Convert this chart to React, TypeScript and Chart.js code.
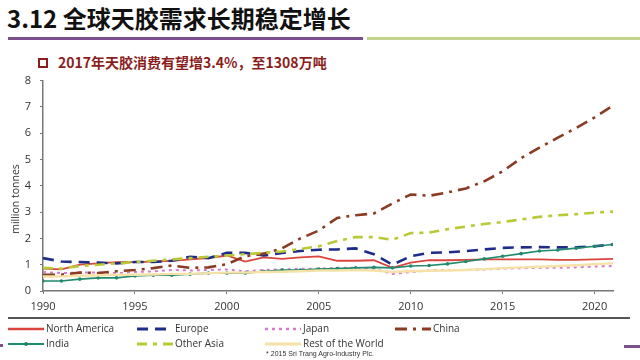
import React, { useEffect, useRef } from 'react';
import { Chart, registerables } from 'chart.js';
Chart.register(...registerables);

const years = [1990, 1991, 1992, 1993, 1994, 1995, 1996, 1997, 1998, 1999, 2000, 2001, 2002, 2003, 2004, 2005, 2006, 2007, 2008, 2009, 2010, 2011, 2012, 2013, 2014, 2015, 2016, 2017, 2018, 2019, 2020, 2021];
const northAmerica = [0.85, 0.82, 1.0, 1.05, 1.1, 1.1, 1.12, 1.15, 1.2, 1.25, 1.35, 1.12, 1.28, 1.22, 1.28, 1.32, 1.15, 1.15, 1.17, 0.88, 1.08, 1.17, 1.17, 1.18, 1.2, 1.2, 1.2, 1.2, 1.18, 1.18, 1.2, 1.22];
const europe = [1.25, 1.12, 1.1, 1.08, 1.05, 1.1, 1.1, 1.15, 1.3, 1.25, 1.45, 1.45, 1.35, 1.45, 1.52, 1.57, 1.58, 1.62, 1.4, 1.0, 1.32, 1.45, 1.47, 1.52, 1.58, 1.64, 1.66, 1.67, 1.66, 1.66, 1.7, 1.77];
const japan = [0.72, 0.68, 0.7, 0.7, 0.68, 0.72, 0.75, 0.8, 0.78, 0.8, 0.82, 0.75, 0.8, 0.82, 0.85, 0.85, 0.88, 0.88, 0.85, 0.65, 0.72, 0.78, 0.8, 0.8, 0.82, 0.85, 0.87, 0.88, 0.88, 0.9, 0.93, 0.95];
const china = [0.62, 0.62, 0.7, 0.68, 0.75, 0.8, 0.87, 0.97, 0.88, 0.9, 1.02, 1.32, 1.42, 1.62, 2.0, 2.3, 2.78, 2.88, 2.95, 3.33, 3.67, 3.62, 3.75, 3.9, 4.17, 4.55, 5.05, 5.45, 5.83, 6.2, 6.6, 7.05];
const india = [0.38, 0.38, 0.45, 0.5, 0.5, 0.57, 0.6, 0.6, 0.64, 0.68, 0.68, 0.68, 0.75, 0.8, 0.8, 0.83, 0.85, 0.88, 0.9, 0.88, 0.95, 0.97, 1.03, 1.12, 1.22, 1.32, 1.42, 1.52, 1.56, 1.63, 1.7, 1.77];
const otherAsia = [0.88, 0.85, 0.95, 1.0, 1.05, 1.1, 1.15, 1.2, 1.25, 1.3, 1.35, 1.4, 1.45, 1.5, 1.6, 1.7, 1.9, 2.05, 2.05, 1.95, 2.2, 2.22, 2.35, 2.45, 2.55, 2.62, 2.72, 2.82, 2.88, 2.92, 2.98, 3.02];
const restOfWorld = [0.55, 0.55, 0.58, 0.6, 0.62, 0.62, 0.63, 0.65, 0.65, 0.68, 0.7, 0.7, 0.72, 0.73, 0.75, 0.78, 0.78, 0.8, 0.78, 0.72, 0.75, 0.77, 0.78, 0.8, 0.83, 0.87, 0.9, 0.92, 0.95, 0.98, 1.02, 1.05];

const xTicks = [1990, 1995, 2000, 2005, 2010, 2015, 2020];
const yTicks = [0, 1, 2, 3, 4, 5, 6, 7, 8];

const seriesNames = ['North America', 'Europe', 'Japan', 'China', 'India', 'Other Asia', 'Rest of the World'];

const styles = [
  { color: '#d9453d', width: 1.8, dash: [] as number[], point: 0 },
  { color: '#1f2d8a', width: 2.6, dash: [11, 7], point: 0 },
  { color: '#d57ad0', width: 2, dash: [3, 4], point: 0 },
  { color: '#8a3b22', width: 2.6, dash: [12, 6, 3, 6], point: 0 },
  { color: '#1f8a6c', width: 1.6, dash: [], point: 1.8 },
  { color: '#b9c935', width: 2.6, dash: [10, 6, 4, 6], point: 0 },
  { color: '#f6e2a6', width: 2.4, dash: [], point: 0 },
];
const seriesData = [northAmerica, europe, japan, china, india, otherAsia, restOfWorld];

function LegendSample({ i }: { i: number }) {
  const s = styles[i];
  return (
    <svg width={36} height={8} style={{ display: 'block' }}>
      <line x1={0} y1={4} x2={36} y2={4} stroke={s.color} strokeWidth={s.width + 0.6}
        strokeDasharray={s.dash.length ? s.dash.join(' ') : undefined} />
      {s.point > 0 && <circle cx={18} cy={4} r={2} fill={s.color} />}
    </svg>
  );
}

export default function App() {
  const ref = useRef<HTMLCanvasElement>(null);
  useEffect(() => {
    document.body.style.margin = '0';
    const ctx = ref.current!;
    const chart = new Chart(ctx, {
      type: 'line',
      data: {
        datasets: seriesData.map((d, i) => ({
          label: seriesNames[i],
          data: years.map((y, k) => ({ x: y, y: d[k] })),
          borderColor: styles[i].color,
          backgroundColor: styles[i].color,
          borderWidth: styles[i].width,
          borderDash: styles[i].dash,
          pointRadius: styles[i].point,
          pointBorderWidth: 0,
          tension: 0,
          fill: false,
        })).reverse(),
      },
      options: {
        animation: false,
        responsive: false,
        maintainAspectRatio: false,
        layout: { padding: { top: 5, right: 27, left: 0, bottom: 0 } },
        plugins: { legend: { display: false }, tooltip: { enabled: false } },
        scales: {
          x: {
            type: 'linear',
            min: 1990,
            max: 2021,
            afterBuildTicks: (scale: any) => {
              scale.ticks = xTicks.map((v) => ({ value: v }));
            },
            afterFit: (scale: any) => { scale.height = 29; },
            ticks: {
              callback: (v: any) => String(v),
              color: '#333',
              font: { family: 'Open Sans', size: 11 },
              padding: 6,
              maxRotation: 0,
            },
            grid: { drawOnChartArea: false, drawTicks: true, tickLength: 3, color: '#777' },
            border: { color: '#777', width: 1.5 },
          },
          y: {
            min: 0,
            max: 8,
            afterBuildTicks: (scale: any) => {
              scale.ticks = yTicks.map((v) => ({ value: v }));
            },
            afterFit: (scale: any) => { scale.width = 43; },
            ticks: {
              color: '#333',
              font: { family: 'Open Sans', size: 11 },
              padding: 9,
            },
            grid: { drawOnChartArea: false, drawTicks: true, tickLength: 3, color: '#777' },
            border: { color: '#777', width: 1.5 },
          },
        },
      },
    });
    return () => chart.destroy();
  }, []);

  const legendPos = [
    { left: 8, top: 322 }, { left: 137, top: 322 }, { left: 265, top: 322 }, { left: 395, top: 322 },
    { left: 8, top: 337 }, { left: 137, top: 337 }, { left: 265, top: 337 },
  ];

  return (
    <div style={{ position: 'relative', width: 640, height: 360, background: '#fff', overflow: 'hidden', fontFamily: 'Open Sans' }}>
      <div style={{ position: 'absolute', left: 7, top: 3, fontFamily: '"Noto Sans CJK SC"', fontWeight: 700, fontSize: 24, lineHeight: '30px', color: '#111', whiteSpace: 'nowrap' }}>
        3.12 全球天胶需求长期稳定增长
      </div>
      <div style={{ position: 'absolute', left: 8, top: 37, width: 355, height: 3, background: '#7a4f8c' }} />
      <div style={{ position: 'absolute', left: 367, top: 37, width: 273, height: 3, background: '#c3d28c' }} />
      <div style={{ position: 'absolute', left: 38, top: 58, width: 6, height: 6, border: '2px solid #8b1d1d' }} />
      <div style={{ position: 'absolute', left: 58, top: 52, fontFamily: '"Noto Sans CJK SC"', fontWeight: 700, fontSize: 14, lineHeight: '20px', color: '#8b1d1d', whiteSpace: 'nowrap' }}>
        2017年天胶消费有望增3.4%，至1308万吨
      </div>
      <canvas ref={ref} width={640} height={255} style={{ position: 'absolute', left: 0, top: 65, width: 640, height: 255 }} />
      <div style={{ position: 'absolute', left: 15, top: 199, width: 0, height: 0 }}>
        <div style={{ position: 'absolute', left: -50, top: -7, width: 100, textAlign: 'center', transform: 'rotate(-90deg)', fontSize: 10.5, lineHeight: '14px', color: '#333', whiteSpace: 'nowrap' }}>
          million tonnes
        </div>
      </div>
      <div style={{ position: 'absolute', left: 8, top: 317, width: 622, height: 1.5, background: '#555' }} />
      {seriesNames.map((n, i) => (
        <div key={n} style={{ position: 'absolute', left: legendPos[i].left, top: legendPos[i].top, display: 'flex', alignItems: 'center', whiteSpace: 'nowrap' }}>
          <LegendSample i={i} />
          <span style={{ marginLeft: 2, fontSize: 10, lineHeight: '13px', color: '#333' }}>{n}</span>
        </div>
      ))}
      <div style={{ position: 'absolute', left: 0, width: 640, top: 349, textAlign: 'center', fontSize: 7, lineHeight: '9px', color: '#333', fontFamily: '"Liberation Sans Narrow", "Liberation Sans"' }}>
        * 2015 Sri Trang Agro-Industry Plc.
      </div>
      <div style={{ position: 'absolute', left: 0, top: 344, width: 3, height: 3, background: '#7a4f8c' }} />
      <div style={{ position: 'absolute', left: 624, top: 345, width: 16, height: 3, background: '#7a4f8c' }} />
    </div>
  );
}
